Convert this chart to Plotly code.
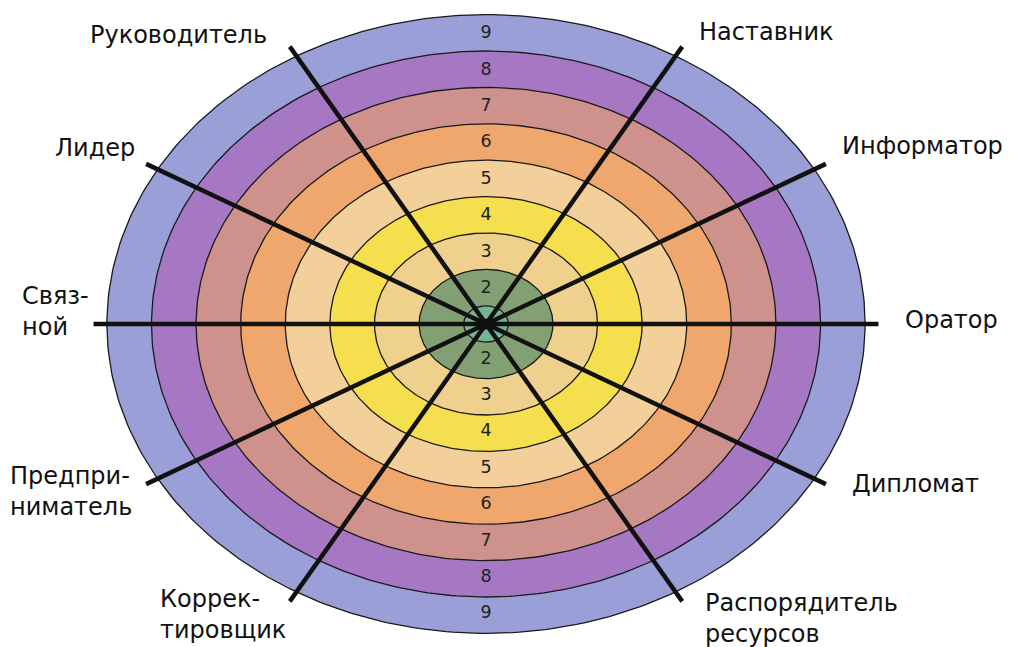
import numpy as np
import plotly.graph_objects as go

# ---- data ----
levels = [1, 2, 3, 4, 5, 6, 7, 8, 9]
level_labels = ["1", "2", "3", "4", "5", "6", "7", "8", "9"]
ring_colors = ["#74b595", "#83a075", "#efd08c", "#f6df4e", "#f3cf99",
               "#efa76e", "#cf918b", "#a678c4", "#9aa0d7"]
roles = ["Оратор", "Информатор", "Наставник", "Руководитель", "Лидер",
         "Связ-<br>ной", "Предпри-<br>ниматель", "Коррек-<br>тировщик",
         "Распорядитель<br>ресурсов", "Дипломат"]
role_angles = [0, 30, 60, 120, 150, 180, 210, 240, 300, 330]

# ---- layout helpers ----
W, H = 1017, 647
CX, CY = 486, 324          # centre in pixels
UX, UY = 44.6, 36.4        # pixels per ring unit
SPOKE_LEN = 8.8
FONT = "DejaVu Sans"

def px2x(px):
    return (px - CX) / UX

def py2y(py):
    return (CY - py) / UY

fig = go.Figure()

t = np.linspace(0, 2 * np.pi, 361)
for lvl, col in sorted(zip(levels, ring_colors), reverse=True):
    r = lvl - 0.5
    fig.add_trace(go.Scatter(
        x=r * np.cos(t), y=r * np.sin(t), mode="lines", fill="toself",
        fillcolor=col, line=dict(color="#1a1a1a", width=1.3),
        hoverinfo="skip", showlegend=False))

# spokes
sx, sy = [], []
for a in role_angles:
    ar = np.deg2rad(a)
    sx += [0, SPOKE_LEN * np.cos(ar), None]
    sy += [0, SPOKE_LEN * np.sin(ar), None]
fig.add_trace(go.Scatter(x=sx, y=sy, mode="lines",
                         line=dict(color="#111111", width=4.5),
                         hoverinfo="skip", showlegend=False))
fig.add_trace(go.Scatter(x=[0], y=[0], mode="markers",
                         marker=dict(color="#111111", size=11),
                         hoverinfo="skip", showlegend=False))

# level numbers (above and below centre)
nx, ny, nt = [], [], []
for lvl, lab in zip(levels, level_labels):
    if lvl < 2:
        continue
    for s in (1, -1):
        nx.append(0)
        ny.append(s * (lvl - 1) - 0.03 * s)
        nt.append(lab)
fig.add_trace(go.Scatter(x=nx, y=ny, mode="text", text=nt,
                         textfont=dict(family=FONT, size=17.5, color="#222222"),
                         hoverinfo="skip", showlegend=False))

# role labels: (px x, px y, xanchor)
label_pos = {
    "Оратор": (951, 320, "center"),
    "Информатор": (922, 146, "center"),
    "Наставник": (766, 32, "center"),
    "Руководитель": (178, 35, "center"),
    "Лидер": (95, 148, "center"),
    "Связ-<br>ной": (20, 311, "left"),
    "Предпри-<br>ниматель": (8, 491, "left"),
    "Коррек-<br>тировщик": (158, 614, "left"),
    "Распорядитель<br>ресурсов": (703, 618, "left"),
    "Дипломат": (915, 484, "center"),
}
for name in roles:
    px, py, xa = label_pos[name]
    fig.add_annotation(x=px2x(px), y=py2y(py), text=name, showarrow=False,
                       xanchor=xa, yanchor="middle", align="left",
                       font=dict(family=FONT, size=24, color="#111111"))

fig.update_layout(
    width=W, height=H, margin=dict(l=0, r=0, t=0, b=0),
    paper_bgcolor="white", plot_bgcolor="white",
    xaxis=dict(range=[px2x(0), px2x(W)], visible=False, fixedrange=True),
    yaxis=dict(range=[py2y(H), py2y(0)], visible=False, fixedrange=True),
)

fig.write_html("out.html", config={"displayModeBar": False},
               post_script="document.body.style.margin='0';document.body.style.overflow='hidden';")
